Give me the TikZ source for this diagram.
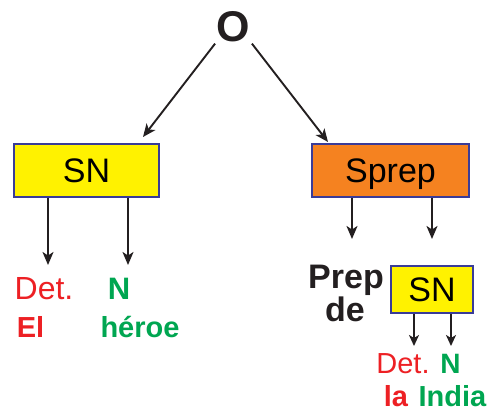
\documentclass[tikz,border=0pt]{standalone}
\usepackage{fontspec}
\setmainfont{Liberation Sans}
\usetikzlibrary{arrows.meta}
\definecolor{cred}{HTML}{ED2024}
\definecolor{cgreen}{HTML}{00A651}
\definecolor{cyellow}{HTML}{FFF200}
\definecolor{corange}{HTML}{F58220}
\definecolor{cblue}{HTML}{3A3C98}
\definecolor{cdark}{HTML}{231F20}
\begin{document}
\begin{tikzpicture}[x=1pt,y=-1pt,
  arr/.style={draw=cdark,line width=1.9pt,-{Stealth[length=13pt,width=11pt,inset=3.5pt]}},
  sarr/.style={draw=cdark,line width=1.8pt,-{Stealth[length=11pt,width=10pt,inset=3pt]}},
  box/.style={draw=cblue,line width=1.5pt,inner sep=0pt,text height=24pt,text depth=0pt,
    font=\fontsize{34}{40}\selectfont,text=black},
  lbl/.style={inner sep=0pt,anchor=base}]
\useasboundingbox (0,0) rectangle (490,410);
\node[lbl,inner sep=1.5pt,font=\fontsize{43}{50}\selectfont\bfseries,text=cdark] (O) at (233.5,41.5) {O};
\node[box,fill=cyellow,minimum width=145pt,minimum height=53pt] (sn1) at (86.5,170.5) {SN};
\node[box,fill=corange,minimum width=157pt,minimum height=53pt] (sprep) at (390.5,170.5) {Sprep};
\node[box,fill=cyellow,minimum width=82pt,minimum height=47pt] (sn2) at (432,289.5) {SN};
\node[lbl,font=\fontsize{32}{38}\selectfont,text=cred] (det1) at (44,299) {Det.};
\node[lbl,font=\fontsize{31}{36}\selectfont\bfseries,text=cgreen] (n1) at (119,299) {N};
\node[lbl,font=\fontsize{29}{34}\selectfont\bfseries,text=cred] (el) at (30.5,337) {El};
\node[lbl,font=\fontsize{29}{34}\selectfont\bfseries,text=cgreen] (heroe) at (140,337) {héroe};
\node[lbl,font=\fontsize{34}{40}\selectfont\bfseries,text=cdark] (prep) at (346,288) {Prep};
\node[lbl,font=\fontsize{34}{40}\selectfont\bfseries,text=cdark] (de) at (345,321) {de};
\node[lbl,font=\fontsize{29}{34}\selectfont,text=cred] (det2) at (403,373) {Det.};
\node[lbl,font=\fontsize{28}{33}\selectfont\bfseries,text=cgreen] (n2) at (450.5,373) {N};
\node[lbl,font=\fontsize{29}{34}\selectfont\bfseries,text=cred] (la) at (396,406) {la};
\node[lbl,font=\fontsize{29}{34}\selectfont\bfseries,text=cgreen] (india) at (452.5,406) {India};
\coordinate (a1) at (143,137);
\coordinate (a2) at (328,142);
\coordinate (t1) at (48,265);
\coordinate (t2) at (128,265);
\coordinate (t3) at (352,239);
\coordinate (t4) at (432,239);
\coordinate (t5) at (414,346);
\coordinate (t6) at (451,346);
\draw[arr] (O.south west) -- (a1);
\draw[arr] (O.south east) -- (a2);
\draw[arr] (sn1.south -| t1) -- (t1);
\draw[arr] (sn1.south -| t2) -- (t2);
\draw[arr] (sprep.south -| t3) -- (t3);
\draw[arr] (sprep.south -| t4) -- (t4);
\draw[sarr] (sn2.south -| t5) -- (t5);
\draw[sarr] (sn2.south -| t6) -- (t6);
\end{tikzpicture}
\end{document}
